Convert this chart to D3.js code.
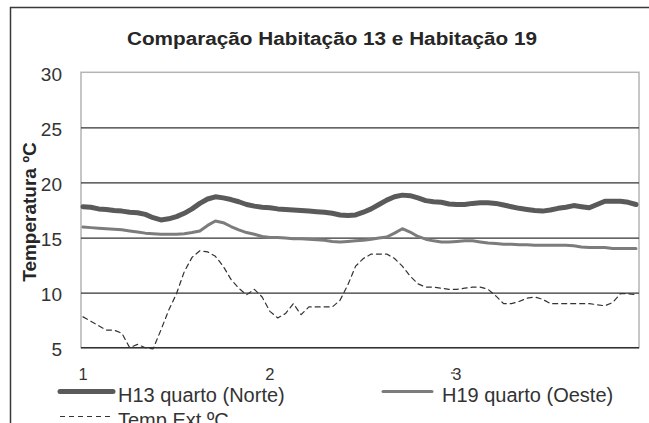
<!DOCTYPE html>
<html>
<head>
<meta charset="utf-8">
<script src="https://cdn.jsdelivr.net/npm/d3@7"></script>
<style>
  html, body { margin: 0; padding: 0; background: #fff; }
  svg { display: block; font-family: "Liberation Sans", Arial, sans-serif; }
</style>
</head>
<body>
<svg id="chart" width="649" height="423"></svg>
<script>
// Hourly readings over three days (24 per day)
const dayLabels = ["1", "2", "3"];
const hoursPerDay = 24;
const yTicks = [5, 10, 15, 20, 25, 30];

const h13Norte = [
  17.8, 17.75, 17.6, 17.55, 17.45, 17.4, 17.3, 17.25, 17.1, 16.8, 16.6, 16.7,
  16.9, 17.2, 17.6, 18.1, 18.5, 18.7, 18.6, 18.45, 18.25, 18.0, 17.85, 17.75,
  17.7, 17.6, 17.55, 17.5, 17.45, 17.4, 17.35, 17.3, 17.2, 17.05, 17.0, 17.05,
  17.3, 17.6, 18.0, 18.4, 18.7, 18.85, 18.8, 18.6, 18.35, 18.25, 18.2, 18.05,
  18.0, 18.0, 18.1, 18.15, 18.15, 18.1, 17.95, 17.8, 17.65, 17.55, 17.45, 17.4,
  17.5, 17.65, 17.75, 17.9, 17.8, 17.7, 18.0, 18.3, 18.3, 18.3, 18.2, 18.0
];

const h19Oeste = [
  15.95, 15.9, 15.85, 15.8, 15.75, 15.7, 15.6, 15.5, 15.4, 15.35, 15.3, 15.3,
  15.3, 15.35, 15.45, 15.6, 16.1, 16.5, 16.35, 16.0, 15.7, 15.45, 15.3, 15.1,
  15.0, 15.0, 14.95, 14.9, 14.9, 14.85, 14.8, 14.75, 14.65, 14.6, 14.65, 14.7,
  14.75, 14.85, 14.95, 15.05, 15.4, 15.8, 15.5, 15.1, 14.85, 14.7, 14.6, 14.6,
  14.65, 14.7, 14.7, 14.6, 14.5, 14.45, 14.4, 14.4, 14.35, 14.35, 14.3, 14.3,
  14.3, 14.3, 14.3, 14.25, 14.15, 14.1, 14.1, 14.1, 14.0, 14.0, 14.0, 14.0
];

const tempExt = [
  7.8, 7.4, 7.0, 6.6, 6.6, 6.3, 5.0, 5.3, 5.0, 4.9, 6.6, 8.4,
  9.9, 11.9, 13.2, 13.8, 13.7, 13.3, 12.4, 11.2, 10.4, 9.8, 10.3, 9.6,
  8.3, 7.7, 8.1, 9.0, 8.0, 8.7, 8.7, 8.7, 8.7, 9.3, 10.7, 12.4,
  13.1, 13.5, 13.5, 13.5, 13.1, 12.4, 11.5, 10.8, 10.5, 10.5, 10.4, 10.3,
  10.3, 10.4, 10.5, 10.5, 10.3, 9.7, 9.0, 9.0, 9.2, 9.5, 9.6, 9.4,
  9.0, 9.0, 9.0, 9.0, 9.0, 9.0, 8.9, 8.8, 9.1, 9.9, 9.9, 9.8
];

const seriesNames = ["H13 quarto  (Norte)", "H19 quarto  (Oeste)", "Temp.Ext.ºC"];

(function drawChart() {
  const svg = d3.select("#chart");
  const W = 649, H = 423;

  // plot area
  const pLeft = 81, pRight = 639, pTop = 72.3, pBottom = 347.7;

  const x = d3.scaleLinear().domain([0, h13Norte.length - 1]).range([83, 636]);
  const y = d3.scaleLinear().domain([5, 30]).range([pBottom, pTop]);

  // outer chart frame
  svg.append("path")
    .attr("d", `M10.5,${H + 2} V7.5 H${W + 2}`)
    .attr("fill", "none").attr("stroke", "#3a3a3a").attr("stroke-width", 1.5);

  // title
  svg.append("text")
    .attr("x", 332).attr("y", 45)
    .attr("text-anchor", "middle")
    .attr("font-size", 18).attr("font-weight", "bold").attr("fill", "#262626")
    .attr("textLength", 410).attr("lengthAdjust", "spacingAndGlyphs")
    .text("Comparação  Habitação  13 e Habitação  19");

  // plot-area border (light grey)
  svg.append("rect")
    .attr("x", pLeft).attr("y", pTop)
    .attr("width", pRight - pLeft).attr("height", pBottom - pTop)
    .attr("fill", "none").attr("stroke", "#b4b4b4").attr("stroke-width", 1.5);

  // horizontal gridlines
  const grid = svg.append("g")
    .attr("transform", `translate(${pLeft},0)`)
    .call(d3.axisLeft(y).tickValues([10, 15, 20, 25]).tickSize(-(pRight - pLeft)).tickFormat(""));
  grid.select(".domain").remove();
  grid.selectAll("line").attr("stroke", "#333").attr("stroke-width", 1.2);

  // y tick labels
  const yAxis = svg.append("g")
    .attr("transform", `translate(${pLeft},2)`)
    .call(d3.axisLeft(y).tickValues(yTicks).tickSize(0).tickPadding(19));
  yAxis.select(".domain").remove();
  yAxis.selectAll("text")
    .attr("font-family", "Liberation Sans, Arial, sans-serif")
    .attr("font-size", 19).attr("fill", "#333");

  // bottom axis line
  svg.append("line")
    .attr("x1", pLeft).attr("x2", pRight).attr("y1", pBottom).attr("y2", pBottom)
    .attr("stroke", "#333").attr("stroke-width", 1.5);

  // x labels, one per day
  const xLabels = svg.append("g");
  xLabels.selectAll("text")
    .data(dayLabels)
    .join("text")
    .attr("x", (d, i) => x(i * hoursPerDay))
    .attr("y", 380)
    .attr("text-anchor", "middle")
    .attr("font-size", 16.5).attr("fill", "#333")
    .text(d => d);
  xLabels.append("line")
    .attr("x1", x(2 * hoursPerDay) - 6).attr("x2", x(2 * hoursPerDay) - 2)
    .attr("y1", 373).attr("y2", 373)
    .attr("stroke", "#333").attr("stroke-width", 1.2);

  // y axis title
  svg.append("text")
    .attr("transform", "translate(36,212) rotate(-90)")
    .attr("text-anchor", "middle")
    .attr("font-size", 19).attr("font-weight", "bold").attr("fill", "#262626")
    .text("Temperatura ºC");

  const line = d3.line().x((d, i) => x(i)).y(d => y(d));

  const styles = [
    { data: h13Norte, color: "#5a5a5a", width: 5, dash: null },
    { data: h19Oeste, color: "#7c7c7c", width: 3, dash: null },
    { data: tempExt, color: "#333", width: 1.2, dash: "5,4" }
  ];

  svg.append("g").selectAll("path")
    .data([styles[2], styles[1], styles[0]])
    .join("path")
    .attr("d", s => line(s.data))
    .attr("fill", "none")
    .attr("stroke", s => s.color)
    .attr("stroke-width", s => s.width)
    .attr("stroke-linejoin", "round")
    .attr("stroke-linecap", "round")
    .attr("stroke-dasharray", s => s.dash);

  // legend
  const legendItems = [
    { s: styles[0], name: seriesNames[0], lx: 60, ly: 391.5, len: 53, gap: 5 },
    { s: styles[1], name: seriesNames[1], lx: 383, ly: 391.5, len: 49, gap: 10 },
    { s: styles[2], name: seriesNames[2], lx: 60, ly: 416.5, len: 50, gap: 8 }
  ];
  const legend = svg.append("g");
  legendItems.forEach(it => {
    legend.append("line")
      .attr("x1", it.lx).attr("x2", it.lx + it.len)
      .attr("y1", it.ly).attr("y2", it.ly)
      .attr("stroke", it.s.color)
      .attr("stroke-width", it.s.width)
      .attr("stroke-linecap", it.s.dash ? "butt" : "round")
      .attr("stroke-dasharray", it.s.dash);
    legend.append("text")
      .attr("x", it.lx + it.len + it.gap)
      .attr("y", it.ly + 10)
      .attr("font-size", 20).attr("fill", "#333")
      .text(it.name);
  });
})();
</script>
</body>
</html>
